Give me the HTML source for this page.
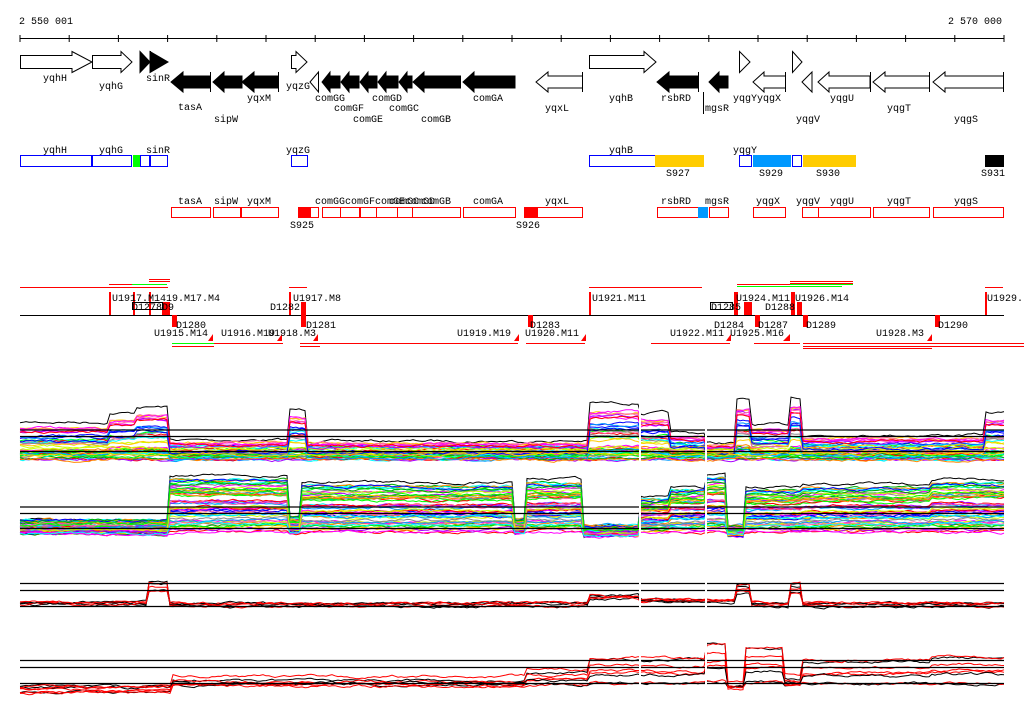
<!DOCTYPE html>
<html><head><meta charset="utf-8"><style>
body{margin:0;background:#fff;width:1024px;height:714px;overflow:hidden}
svg{display:block}
text{font-family:"Liberation Mono","DejaVu Sans Mono",monospace;font-size:10px;fill:#000}
</style></head><body>
<svg id="s" width="1024" height="714" viewBox="0 0 1024 714" xmlns="http://www.w3.org/2000/svg">
<text x="19" y="24">2 550 001</text>
<text x="948" y="24">2 570 000</text>
<g id="axis" stroke="#000" stroke-width="1"><line x1="20" y1="38.5" x2="1004" y2="38.5"/></g>

<g stroke="#000" fill="#fff" stroke-width="1">
<polygon points="20.5,55.5 72,55.5 72,51.5 92,62 72,72.5 72,68.5 20.5,68.5"/>
<polygon points="92.5,55.5 121,55.5 121,51.5 132,62 121,72.5 121,68.5 92.5,68.5"/>
<polygon points="140,51.5 150,62 140,72.5" fill="#000"/>
<polygon points="150,51.5 168,62 150,72.5" fill="#000"/>
<line x1="150.5" y1="51" x2="150.5" y2="72"/>
<polygon points="291.5,55.5 296,55.5 296,51.5 307,62 296,72.5 296,68.5 291.5,68.5"/>
<polygon points="589.5,55.5 644,55.5 644,51.5 656,62 644,72.5 644,68.5 589.5,68.5"/>
<polygon points="739.5,51.5 750,62 739.5,72.5"/>
<polygon points="792.5,51.5 802,62 792.5,72.5"/>
</g>
<g stroke="#000" stroke-width="1" fill="#000">
<polygon points="171,82 183,72 183,76 210.5,76 210.5,88 183,88 183,92"/>
<polygon points="213,82 224,72 224,76 242,76 242,88 224,88 224,92"/>
<polygon points="242,82 254,72 254,76 278.5,76 278.5,88 254,88 254,92"/>
<polygon points="310,82 318.5,72 318.5,92" fill="#fff"/>
<polygon points="322,82 330,72 330,76 340,76 340,88 330,88 330,92"/>
<polygon points="341,82 349,72 349,76 359,76 359,88 349,88 349,92"/>
<polygon points="360,82 368,72 368,76 377,76 377,88 368,88 368,92"/>
<polygon points="378,82 386,72 386,76 398,76 398,88 386,88 386,92"/>
<polygon points="399,82 407,72 407,76 412,76 412,88 407,88 407,92"/>
<polygon points="413,82 424,72 424,76 460.5,76 460.5,88 424,88 424,92"/>
<polygon points="463,82 474,72 474,76 515,76 515,88 474,88 474,92"/>
<polygon points="536,82 548,72 548,76 582.5,76 582.5,88 548,88 548,92" fill="#fff"/>
<polygon points="657,82 669,72 669,76 698.5,76 698.5,88 669,88 669,92"/>
<polygon points="709,82 719,72 719,76 728,76 728,88 719,88 719,92"/>
<polygon points="753,82 764,72 764,76 785.5,76 785.5,88 764,88 764,92" fill="#fff"/>
<polygon points="802,82 812,72 812,92" fill="#fff"/>
<polygon points="818,82 829,72 829,76 870,76 870,88 829,88 829,92" fill="#fff"/>
<polygon points="873,82 885,72 885,76 929.5,76 929.5,88 885,88 885,92" fill="#fff"/>
<polygon points="933,82 945,72 945,76 1003.5,76 1003.5,88 945,88 945,92" fill="#fff"/>
<line x1="210.5" y1="72" x2="210.5" y2="92"/><line x1="278.5" y1="72" x2="278.5" y2="92"/>
<line x1="582.5" y1="72" x2="582.5" y2="92"/><line x1="698.5" y1="72" x2="698.5" y2="92"/>
<line x1="785.5" y1="72" x2="785.5" y2="92"/><line x1="870.5" y1="72" x2="870.5" y2="92"/>
<line x1="929.5" y1="72" x2="929.5" y2="92"/><line x1="1003.5" y1="72" x2="1003.5" y2="92"/>
<line x1="703.5" y1="92" x2="703.5" y2="114"/>
</g>
<g>
<text x="43" y="81">yqhH</text><text x="99" y="89">yqhG</text><text x="146" y="81">sinR</text>
<text x="178" y="110">tasA</text><text x="214" y="122">sipW</text><text x="247" y="101">yqxM</text>
<text x="286" y="89">yqzG</text><text x="315" y="101">comGG</text><text x="334" y="111">comGF</text>
<text x="353" y="122">comGE</text><text x="372" y="101">comGD</text><text x="389" y="111">comGC</text>
<text x="421" y="122">comGB</text><text x="473" y="101">comGA</text><text x="545" y="111">yqxL</text>
<text x="609" y="101">yqhB</text><text x="661" y="101">rsbRD</text><text x="705" y="111">mgsR</text>
<text x="733" y="101">yqgYyqgX</text><text x="796" y="122">yqgV</text><text x="830" y="101">yqgU</text>
<text x="887" y="111">yqgT</text><text x="954" y="122">yqgS</text>
</g>

<g fill="#fff" stroke="#00f" stroke-width="1">
<rect x="20.5" y="155.5" width="71" height="11"/><rect x="92.5" y="155.5" width="39" height="11"/>
<rect x="133" y="155" width="7" height="12" fill="#0f0" stroke="none"/>
<rect x="140.5" y="155.5" width="9" height="11"/><rect x="150.5" y="155.5" width="17" height="11"/>
<rect x="291.5" y="155.5" width="16" height="11"/>
<rect x="589.5" y="155.5" width="66" height="11"/>
<rect x="739.5" y="155.5" width="12" height="11"/>
<rect x="792.5" y="155.5" width="9" height="11"/>
</g>
<rect x="655" y="155" width="49" height="12" fill="#fc0"/>
<rect x="753" y="155" width="38" height="12" fill="#09f"/>
<rect x="803" y="155" width="53" height="12" fill="#fc0"/>
<rect x="985" y="155" width="19" height="12" fill="#000"/>
<text x="43" y="153">yqhH</text><text x="99" y="153">yqhG</text><text x="146" y="153">sinR</text>
<text x="286" y="153">yqzG</text><text x="609" y="153">yqhB</text><text x="733" y="153">yqgY</text>
<text x="666" y="176">S927</text><text x="759" y="176">S929</text><text x="816" y="176">S930</text><text x="981" y="176">S931</text>

<g fill="#fff" stroke="#f00" stroke-width="1">
<rect x="171.5" y="207.5" width="39" height="10"/><rect x="213.5" y="207.5" width="27" height="10"/>
<rect x="241.5" y="207.5" width="37" height="10"/><rect x="310.5" y="207.5" width="8" height="10"/>
<rect x="322.5" y="207.5" width="18" height="10"/><rect x="340.5" y="207.5" width="19" height="10"/>
<rect x="360.5" y="207.5" width="16" height="10"/><rect x="376.5" y="207.5" width="21" height="10"/>
<rect x="397.5" y="207.5" width="15" height="10"/><rect x="412.5" y="207.5" width="48" height="10"/>
<rect x="463.5" y="207.5" width="52" height="10"/><rect x="537.5" y="207.5" width="45" height="10"/>
<rect x="657.5" y="207.5" width="41" height="10"/><rect x="709.5" y="207.5" width="19" height="10"/>
<rect x="753.5" y="207.5" width="32" height="10"/><rect x="802.5" y="207.5" width="16" height="10"/>
<rect x="818.5" y="207.5" width="52" height="10"/><rect x="873.5" y="207.5" width="56" height="10"/>
<rect x="933.5" y="207.5" width="70" height="10"/>
</g>
<rect x="298" y="207" width="12" height="11" fill="#f00"/>
<rect x="524" y="207" width="13" height="11" fill="#f00"/>
<rect x="698" y="207" width="10" height="11" fill="#09f"/>
<text x="178" y="204">tasA</text><text x="214" y="204">sipW</text><text x="247" y="204">yqxM</text>
<text x="315" y="204">comGGcomGFcomGEcomGD</text><text x="389" y="204">comGC</text><text x="421" y="204">comGB</text>
<text x="473" y="204">comGA</text><text x="545" y="204">yqxL</text><text x="661" y="204">rsbRD</text>
<text x="705" y="204">mgsR</text><text x="756" y="204">yqgX</text><text x="796" y="204">yqgV</text>
<text x="830" y="204">yqgU</text><text x="887" y="204">yqgT</text><text x="954" y="204">yqgS</text>
<text x="290" y="228">S925</text><text x="516" y="228">S926</text>

<line x1="20" y1="315.5" x2="1004" y2="315.5" stroke="#000"/>
<g stroke="#f00" stroke-width="1">
<line x1="20" y1="287.5" x2="168" y2="287.5"/><line x1="109" y1="284.5" x2="132" y2="284.5"/>
<line x1="149" y1="279.5" x2="170" y2="279.5"/><line x1="149" y1="281.5" x2="170" y2="281.5"/>
<line x1="289" y1="287.5" x2="307" y2="287.5"/><line x1="589" y1="287.5" x2="702" y2="287.5"/>
<line x1="737" y1="284.5" x2="790" y2="284.5"/><line x1="790" y1="281.5" x2="853" y2="281.5"/>
<line x1="790" y1="283.5" x2="853" y2="283.5"/><line x1="985" y1="287.5" x2="1003" y2="287.5"/>
<line x1="172" y1="346.5" x2="214" y2="346.5"/><line x1="214" y1="343.5" x2="283" y2="343.5"/>
<line x1="300" y1="343.5" x2="320" y2="343.5"/><line x1="300" y1="346.5" x2="320" y2="346.5"/>
<line x1="320" y1="343.5" x2="518" y2="343.5"/><line x1="526" y1="343.5" x2="585" y2="343.5"/>
<line x1="651" y1="343.5" x2="730" y2="343.5"/><line x1="754" y1="343.5" x2="800" y2="343.5"/>
<line x1="803" y1="343.5" x2="1024" y2="343.5"/><line x1="803" y1="346.5" x2="1024" y2="346.5"/>
<line x1="803" y1="348.5" x2="932" y2="348.5"/>
</g>
<g stroke="#0f0"><line x1="132" y1="284.5" x2="167" y2="284.5"/><line x1="172" y1="343.5" x2="214" y2="343.5"/>
<line x1="737" y1="286.5" x2="842" y2="286.5"/><line x1="790" y1="284.5" x2="853" y2="284.5"/></g>
<g fill="#f00">
<rect x="109" y="292" width="2" height="23"/><rect x="133" y="292" width="2" height="23"/><rect x="149" y="292" width="2" height="23"/>
<rect x="162" y="302" width="8" height="13"/><rect x="172" y="315" width="5" height="12"/>
<rect x="289" y="292" width="2" height="23"/><rect x="301" y="302" width="5" height="13"/><rect x="301" y="315" width="5" height="12"/>
<rect x="528" y="315" width="5" height="12"/><rect x="589" y="292" width="2" height="23"/>
<rect x="734" y="292" width="4" height="23"/><rect x="744" y="302" width="8" height="13"/>
<rect x="755" y="315" width="5" height="12"/><rect x="791" y="292" width="4" height="23"/><rect x="797" y="302" width="5" height="13"/>
<rect x="803" y="315" width="5" height="12"/><rect x="935" y="315" width="5" height="12"/><rect x="985" y="292" width="2" height="23"/>
<polygon points="208,341 213,334 213,341"/><polygon points="277,341 282,334 282,341"/><polygon points="313,341 318,334 318,341"/>
<polygon points="514,341 519,334 519,341"/><polygon points="581,341 586,334 586,341"/><polygon points="726,341 731,334 731,341"/>
<polygon points="783,341 790,334 790,341"/><polygon points="927,341 932,334 932,341"/>
</g>
<g fill="none" stroke="#000"><rect x="132.5" y="302.5" width="30" height="7"/><rect x="710.5" y="302.5" width="22" height="7"/></g>
<text x="112" y="301">U1917.M1419.M17.M4</text><text x="132" y="310">D1278D9</text>
<text x="293" y="301">U1917.M8</text><text x="270" y="310">D1282</text>
<text x="592" y="301">U1921.M11</text><text x="736" y="301">U1924.M11</text><text x="795" y="301">U1926.M14</text>
<text x="987" y="301">U1929.</text><text x="711" y="310">D1285</text><text x="765" y="310">D1288</text>
<text x="176" y="328">D1280</text><text x="154" y="336">U1915.M14</text><text x="221" y="336">U1916.M19</text>
<text x="268" y="336">U1918.M3</text><text x="306" y="328">D1281</text><text x="457" y="336">U1919.M19</text>
<text x="530" y="328">D1283</text><text x="525" y="336">U1920.M11</text><text x="670" y="336">U1922.M11</text>
<text x="714" y="328">D1284</text><text x="730" y="336">U1925.M16</text><text x="758" y="328">D1287</text>
<text x="806" y="328">D1289</text><text x="876" y="336">U1928.M3</text><text x="938" y="328">D1290</text>

<g id="graphs"></g>
<g stroke="#000" stroke-width="1.2">
<line x1="20" y1="430" x2="1004" y2="430"/><line x1="20" y1="436.5" x2="1004" y2="436.5"/><line x1="20" y1="451.5" x2="1004" y2="451.5"/>
<line x1="20" y1="507" x2="1004" y2="507"/><line x1="20" y1="513.5" x2="1004" y2="513.5"/><line x1="20" y1="528.5" x2="1004" y2="528.5"/>
<line x1="20" y1="583.5" x2="1004" y2="583.5"/><line x1="20" y1="590.5" x2="1004" y2="590.5"/><line x1="20" y1="606.5" x2="1004" y2="606.5"/>
<line x1="20" y1="660.5" x2="1004" y2="660.5"/><line x1="20" y1="667.5" x2="1004" y2="667.5"/><line x1="20" y1="683.5" x2="1004" y2="683.5"/>
</g>
<g fill="#fff"><rect x="639" y="395" width="2" height="300"/><rect x="705" y="395" width="2" height="300"/></g>
</svg>
<script>
(function(){
var ax=document.getElementById('axis');
for(var i=0;i<=20;i++){var x=20+i*49.2;var l=document.createElementNS('http://www.w3.org/2000/svg','line');
l.setAttribute('x1',x);l.setAttribute('x2',x);l.setAttribute('y1',35);l.setAttribute('y2',42);ax.appendChild(l);}
var g=document.getElementById('graphs');
function top(bp,x){for(var i=bp.length-1;i>=0;i--){if(x>=bp[i][0])return bp[i][1];}return bp[0][1];}
var seed=7;function rnd(){seed=(seed*16807)%2147483647;return seed/2147483647;}
var cols=['#f0f','#0ff','#0f0','#f00','#09f','#fc0','#888','#cf0','#f80','#00f','#a0f','#0a0','#f6a'];
function panel(bp,base,n,colset,spread,ex){
 for(var k=0;k<n;k++){
  var f=k==0?1:Math.pow(rnd(),ex)*0.95;var off=(rnd()-0.5)*spread;var pts=[];var nz=0;
  for(var x=20;x<=1004;x+=3){nz=nz*0.8+(rnd()-0.5)*2;var t=top(bp,x);var y=base+off+nz-f*(base-t);pts.push(x+','+y.toFixed(1));}
  var p=document.createElementNS('http://www.w3.org/2000/svg','polyline');
  p.setAttribute('points',pts.join(' '));p.setAttribute('fill','none');
  p.setAttribute('stroke',k==0?'#000':colset[k%colset.length]);p.setAttribute('stroke-width','1');g.appendChild(p);}
}
panel([[20,427],[110,418],[135,412],[168,445],[290,415],[308,446],[590,408],[640,418],[670,438],[707,448],[737,405],[750,430],[790,402],[802,440],[985,418]],455,45,cols,10,2.6);
panel([[20,523],[168,478],[290,520],[300,485],[515,522],[525,482],[582,530],[640,500],[670,490],[707,476],[727,530],[745,490],[802,487],[930,482]],532,55,cols,10,1.3);
panel([[20,603],[148,580],[168,605],[590,595],[640,600],[737,583],[750,605],[790,582],[802,605]],606,6,['#f00','#000','#f00'],6,1);
panel([[20,688],[172,676],[525,668],[590,655],[640,656],[707,640],[727,683],[745,645],[785,675],[802,658],[930,654]],687,8,['#f00','#000','#f00','#f00'],12,1);
})();
</script>
</body></html>
